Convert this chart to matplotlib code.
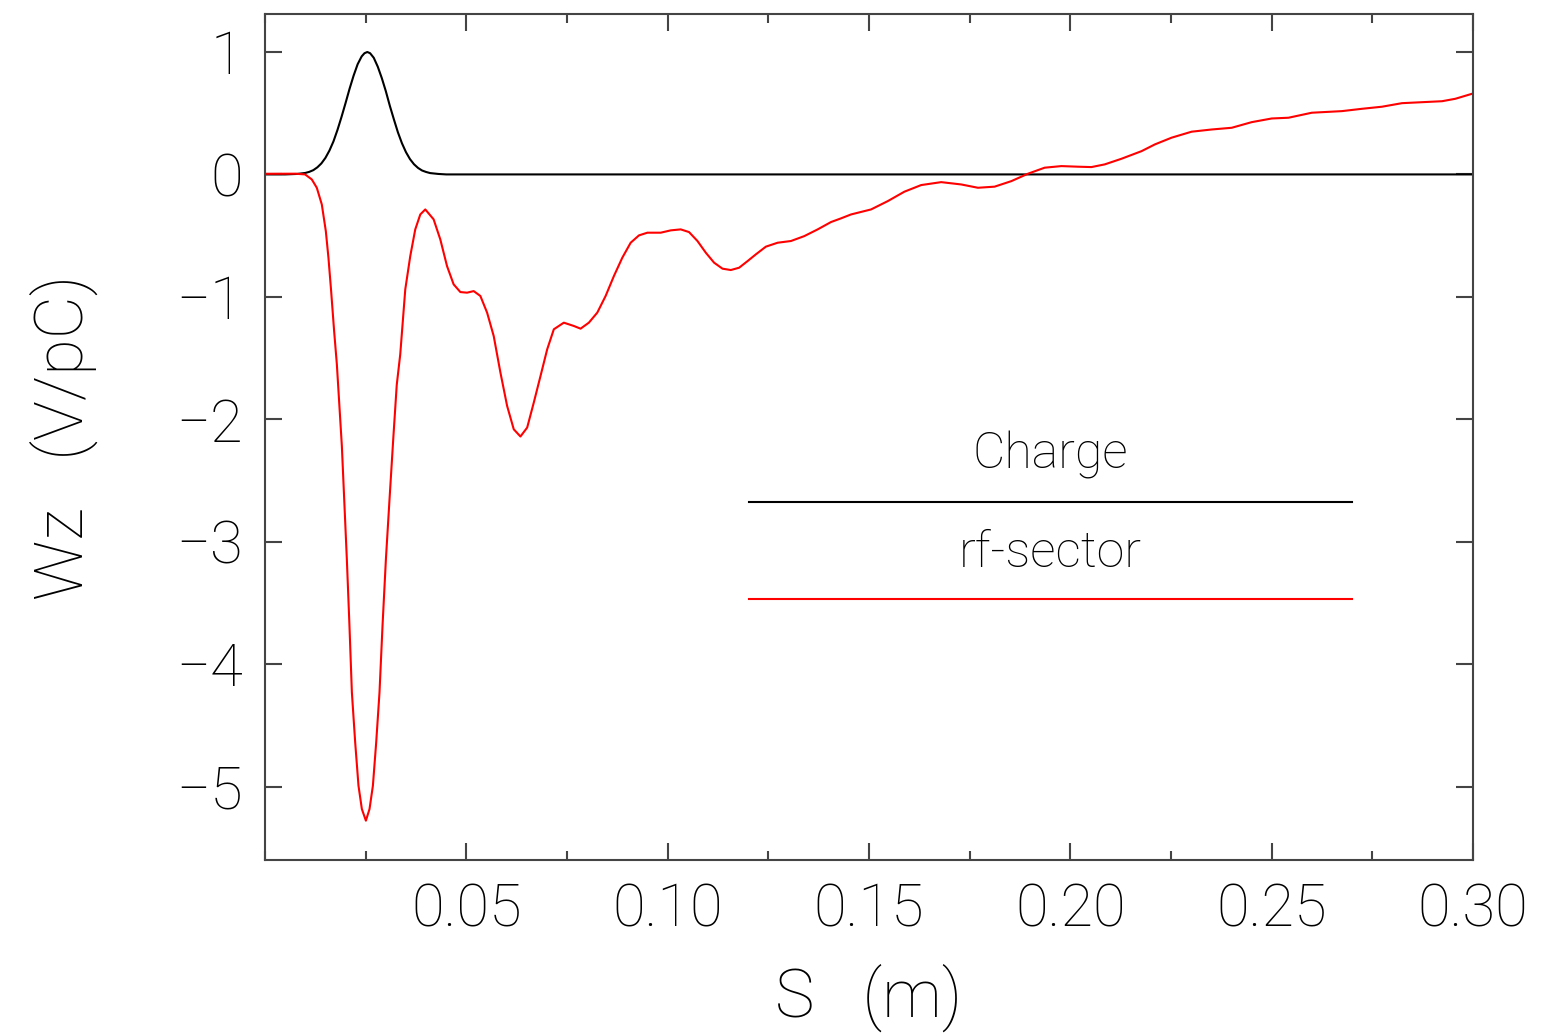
import matplotlib
matplotlib.use('Agg')
import matplotlib.pyplot as plt
from matplotlib.ticker import MultipleLocator, FixedLocator

plt.rcParams['font.family'] = ['Roboto', 'DejaVu Sans']
plt.rcParams['font.weight'] = 'light'
plt.rcParams['axes.labelweight'] = 'light'

# charge distribution (black)
s_charge = [0.0, 0.005, 0.008, 0.010, 0.011, 0.012, 0.013, 0.014, 0.015, 0.016,
            0.017, 0.018, 0.019, 0.020, 0.021, 0.022, 0.023, 0.024, 0.0247, 0.0254,
            0.0261, 0.027, 0.028, 0.029, 0.030, 0.031, 0.032, 0.033, 0.034, 0.035,
            0.036, 0.037, 0.038, 0.039, 0.040, 0.041, 0.043, 0.045, 0.30]
w_charge = [0.0, 0.0, 0.004, 0.012, 0.021, 0.035, 0.058, 0.09, 0.135, 0.195,
            0.27, 0.364, 0.47, 0.583, 0.70, 0.807, 0.90, 0.964, 0.99, 1.0,
            0.99, 0.953, 0.88, 0.787, 0.68, 0.56, 0.45, 0.344, 0.255, 0.182,
            0.125, 0.083, 0.053, 0.032, 0.02, 0.011, 0.004, 0.0, 0.0]

# rf-sector wake (red)
s_rf = [0.0, 0.00746, 0.00995, 0.01162, 0.01286, 0.01410, 0.01510, 0.01575,
        0.01642, 0.01716, 0.01784, 0.01908, 0.02032, 0.02097, 0.02157, 0.02239,
        0.02321, 0.02405, 0.02505, 0.02595, 0.02679, 0.02761, 0.02843, 0.02918,
        0.03002, 0.03092, 0.03184, 0.03271, 0.03358, 0.03483, 0.03607, 0.03731,
        0.03856, 0.03980, 0.04187, 0.04353, 0.04520, 0.04684, 0.04851, 0.05017,
        0.05182, 0.05348, 0.05515, 0.05679, 0.05846, 0.06012, 0.06177, 0.06343,
        0.06510, 0.06674, 0.06841, 0.07007, 0.07172, 0.07420, 0.07669, 0.07836,
        0.08042, 0.08251, 0.08458, 0.08664, 0.08873, 0.09080, 0.09286, 0.09495,
        0.09826, 0.10075, 0.10323, 0.10530, 0.10739, 0.10945, 0.11152, 0.11361,
        0.11567, 0.11774, 0.11983, 0.12189, 0.12438, 0.12729, 0.13060, 0.13391,
        0.13724, 0.14055, 0.14303, 0.14552, 0.15050, 0.15465, 0.15878, 0.16294,
        0.16791, 0.17289, 0.17704, 0.18117, 0.18532, 0.18948, 0.19361, 0.19776,
        0.20192, 0.20522, 0.20853, 0.21269, 0.21766, 0.22097, 0.22512, 0.23010,
        0.23507, 0.24005, 0.24502, 0.25000, 0.25415, 0.25995, 0.26741, 0.27239,
        0.27736, 0.28234, 0.28731, 0.29229, 0.29560, 0.30057]
w_rf = [0.005, 0.006, 0.0, -0.041, -0.109, -0.245, -0.463, -0.680,
        -0.953, -1.279, -1.551, -2.218, -3.143, -3.687, -4.231, -4.639,
        -4.993, -5.184, -5.279, -5.184, -4.993, -4.639, -4.231, -3.687,
        -3.143, -2.653, -2.163, -1.720, -1.470, -0.939, -0.667, -0.449,
        -0.327, -0.286, -0.367, -0.531, -0.749, -0.898, -0.961, -0.966,
        -0.953, -0.993, -1.129, -1.320, -1.619, -1.891, -2.082, -2.141,
        -2.068, -1.864, -1.647, -1.429, -1.265, -1.211, -1.238, -1.260,
        -1.211, -1.129, -0.993, -0.830, -0.680, -0.558, -0.498, -0.476,
        -0.476, -0.457, -0.449, -0.471, -0.544, -0.639, -0.721, -0.770,
        -0.781, -0.762, -0.708, -0.653, -0.590, -0.558, -0.544, -0.504,
        -0.449, -0.389, -0.359, -0.327, -0.286, -0.218, -0.141, -0.087,
        -0.063, -0.082, -0.109, -0.100, -0.055, 0.006, 0.055, 0.068,
        0.063, 0.060, 0.082, 0.128, 0.190, 0.245, 0.300, 0.349,
        0.367, 0.381, 0.427, 0.457, 0.463, 0.504, 0.517, 0.536,
        0.553, 0.582, 0.590, 0.598, 0.618, 0.667]

xticks = [0.05, 0.10, 0.15, 0.20, 0.25, 0.30]
xtick_labels = ['0.05', '0.10', '0.15', '0.20', '0.25', '0.30']
yticks = [1, 0, -1, -2, -3, -4, -5]
ytick_labels = ['1', '0', '\u22121', '\u22122', '\u22123', '\u22124', '\u22125']

fig = plt.figure(figsize=(15.58, 10.33), dpi=100)
ax = fig.add_axes([0.1701, 0.1675, 0.7754, 0.8189])

ax.plot(s_charge, w_charge, color='black', lw=1.5)
ax.plot(s_rf, w_rf, color='red', lw=1.5)

ax.set_xlim(0, 0.30)
ax.set_ylim(-5.6, 1.31)

ax.xaxis.set_major_locator(FixedLocator(xticks))
ax.set_xticklabels(xtick_labels)
ax.xaxis.set_minor_locator(MultipleLocator(0.025))
ax.set_yticks(yticks)
ax.set_yticklabels(ytick_labels)

ax.tick_params(which='major', direction='in', top=True, right=True,
               length=12, width=1.5, color='#444444', labelsize=43, pad=16)
ax.tick_params(which='minor', direction='in', top=True, right=True,
               length=6.5, width=1.5, color='#444444')
for sp in ax.spines.values():
    sp.set_linewidth(1.5)
    sp.set_color('#444444')

ax.set_xlabel('S   (m)', fontsize=48, fontweight='light', labelpad=18)
ax.set_ylabel('Wz   (V/pC)', fontsize=48, fontweight='light', labelpad=56)

# legend drawn as in the original: label text above each line sample
ax.text(0.650, 0.4787, 'Charge', transform=ax.transAxes, ha='center', va='center',
        fontsize=36)
ax.plot([0.4007, 0.8998], [0.4232, 0.4232], transform=ax.transAxes, color='black', lw=1.5)
ax.text(0.650, 0.3629, 'rf-sector', transform=ax.transAxes, ha='center', va='center',
        fontsize=36)
ax.plot([0.4007, 0.8998], [0.3085, 0.3085], transform=ax.transAxes, color='red', lw=1.5)

fig.savefig('out.png', dpi=100)
